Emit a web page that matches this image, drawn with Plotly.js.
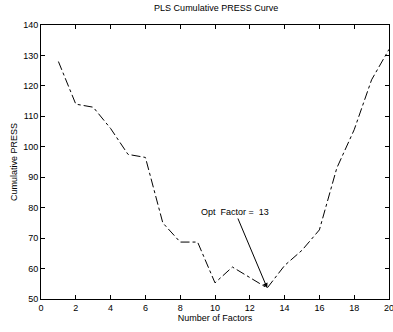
<!DOCTYPE html>
<html><head><meta charset="utf-8">
<script src="https://cdn.plot.ly/plotly-3.0.1.min.js"></script>
<style>html,body{margin:0;padding:0;background:#fff}</style>
</head><body><div id="chart" style="width:393px;height:332px"></div>
<script>
const factors = [1,2,3,4,5,6,7,8,9,10,11,12,13,14,15,16,17,18,19,20];
const press = [128,114,113,106,97.5,96.5,75,68.7,68.7,55.3,60.5,57,53.6,61,66,72.7,93,105.6,122,132];
const optFactor = 13;
const optPress = press[factors.indexOf(optFactor)];
const xTicks = [0,2,4,6,8,10,12,14,16,18,20];
const yTicks = [50,60,70,80,90,100,110,120,130,140];

const font = {family: 'Liberation Sans, Arial, sans-serif', size: 9, color: '#000'};
const trace = {
  x: factors, y: press, type: 'scatter', mode: 'lines',
  line: {color: '#000', width: 1, dash: 'dashdot'}, hoverinfo: 'none'
};
const axisCommon = {
  showgrid: false, zeroline: false, showline: true, mirror: 'ticks',
  linecolor: '#000', linewidth: 1, ticks: 'inside', ticklen: 4,
  tickcolor: '#000', tickfont: font, ticklabeloverflow: 'allow'
};
const layout = {
  width: 393, height: 332,
  margin: {l: 41, r: 4, t: 25, b: 33},
  paper_bgcolor: '#fff', plot_bgcolor: '#fff',
  showlegend: false, font: font,
  title: {text: 'PLS Cumulative PRESS Curve', font: font, x: 0.55, xanchor: 'center', y: 0.985, yanchor: 'top'},
  xaxis: Object.assign({}, axisCommon, {range: [-0.0005,20.0005], tickvals: xTicks, ticktext: xTicks.map(String),
    title: {text: 'Number of Factors', font: font, standoff: 2}}),
  yaxis: Object.assign({}, axisCommon, {range: [49.998,140.002], tickvals: yTicks, ticktext: yTicks.map(String),
    title: {text: 'Cumulative PRESS', font: font, standoff: 4}}),
  annotations: [{
    x: optFactor, y: optPress, xref: 'x', yref: 'y',
    text: 'Opt  Factor =  ' + optFactor, font: font,
    showarrow: true, arrowhead: 2, arrowsize: 1, arrowwidth: 1, arrowcolor: '#000',
    ax: -32, ay: -76, standoff: 0
  }]
};
Plotly.newPlot('chart', [trace], layout, {staticPlot: true, displayModeBar: false});
</script></body></html>
